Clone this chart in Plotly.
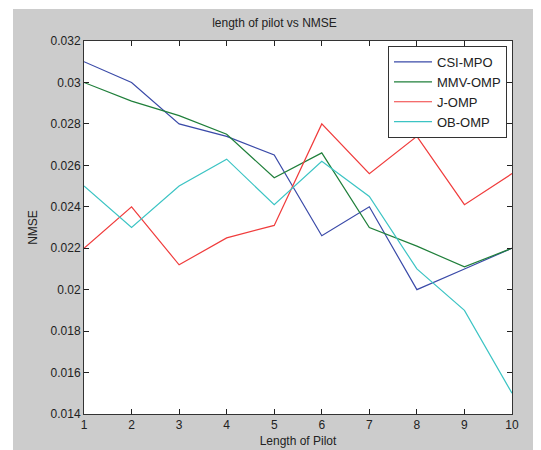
import plotly.graph_objects as go

pilot_length = [1, 2, 3, 4, 5, 6, 7, 8, 9, 10]
csi_mpo = [0.0310, 0.0300, 0.0280, 0.0274, 0.0265, 0.0226, 0.0240, 0.0200, 0.0210, 0.0220]
mmv_omp = [0.0300, 0.0291, 0.0284, 0.0275, 0.0254, 0.0266, 0.0230, 0.0221, 0.0211, 0.0220]
j_omp = [0.0220, 0.0240, 0.0212, 0.0225, 0.0231, 0.0280, 0.0256, 0.0274, 0.0241, 0.0256]
ob_omp = [0.0250, 0.0230, 0.0250, 0.0263, 0.0241, 0.0262, 0.0245, 0.0210, 0.0190, 0.0150]

y_tickvals = [0.014, 0.016, 0.018, 0.020, 0.022, 0.024, 0.026, 0.028, 0.030, 0.032]
y_ticktext = ["0.014", "0.016", "0.018", "0.02", "0.022", "0.024", "0.026", "0.028", "0.03", "0.032"]

series = [
    ("CSI-MPO", csi_mpo, "#3a4aa8"),
    ("MMV-OMP", mmv_omp, "#1f7f3a"),
    ("J-OMP", j_omp, "#f03c3c"),
    ("OB-OMP", ob_omp, "#3cc4c4"),
]

fig = go.Figure()
for name, vals, color in series:
    fig.add_trace(go.Scatter(x=pilot_length, y=vals, mode="lines", name=name,
                             line=dict(color=color, width=1.2)))

font_family = "Liberation Sans, Arial, sans-serif"
OFF = 8  # page body margin
W, H = 541 - OFF, 450 - OFF
L, R, T, B = 84 - OFF, 512 - OFF, 41 - OFF, 414 - OFF

def px(x):
    return (x - OFF - L) / (R - L)

def py(y):
    return (B - (y - OFF)) / (B - T)

fig.update_layout(
    width=W, height=H,
    margin=dict(l=L, r=W - R, t=T, b=H - B, autoexpand=False),
    paper_bgcolor="white",
    plot_bgcolor="white",
    font=dict(family=font_family, size=12, color="#222222"),
    title=dict(text="length of pilot vs NMSE", x=px(298), xanchor="center",
               y=1 - (23 - OFF) / H, yanchor="middle", font=dict(size=12, color="#222222")),
    showlegend=True,
    legend=dict(x=px(507), xanchor="right", y=py(46), yanchor="top",
                bgcolor="white", bordercolor="#333333", borderwidth=1, itemwidth=38,
                font=dict(size=13, color="#222222"), tracegroupgap=0),
    shapes=[
        dict(type="rect", xref="paper", yref="paper", x0=px(13), x1=px(560),
             y0=py(470), y1=py(9), fillcolor="#cccccc", line=dict(width=0), layer="below"),
        dict(type="rect", xref="paper", yref="paper", x0=0, x1=1, y0=0, y1=1,
             fillcolor="white", line=dict(width=0), layer="below"),
    ],
)

fig.update_xaxes(
    range=[1, 10], tickvals=pilot_length, ticks="inside", ticklen=5, tickcolor="#222222",
    showline=True, linecolor="#333333", linewidth=1, mirror="ticks", showgrid=False,
    zeroline=False, tickfont=dict(size=12, color="#222222"),
    title=dict(text="Length of Pilot", standoff=5, font=dict(size=12, color="#222222")),
)
fig.update_yaxes(
    range=[0.014, 0.032], tickvals=y_tickvals, ticktext=y_ticktext, ticks="inside",
    ticklen=5, tickcolor="#222222", showline=True, linecolor="#333333", linewidth=1,
    mirror="ticks", showgrid=False, zeroline=False, tickfont=dict(size=12, color="#222222"),
    title=dict(text="NMSE", standoff=10, font=dict(size=12, color="#222222")),
)

fig.write_html("out.html")
